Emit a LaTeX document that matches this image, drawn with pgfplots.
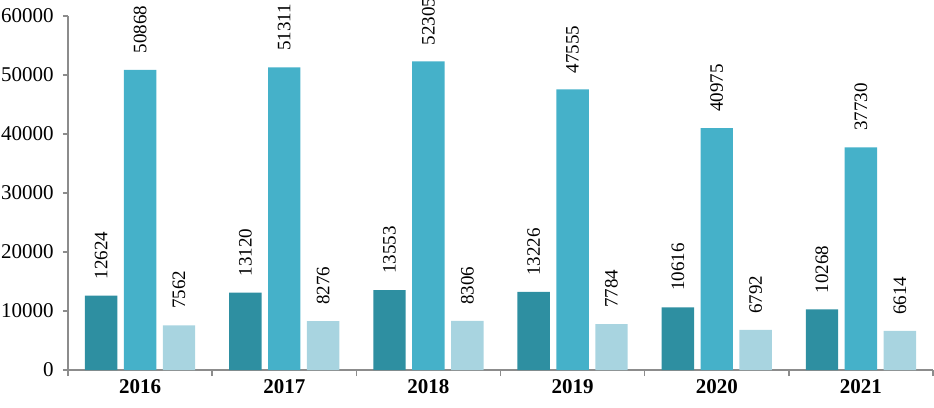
\documentclass[border=0pt]{standalone}
\usepackage{pgfplots}
\pgfplotsset{compat=1.18}
\usepackage{fontspec}
\setmainfont{Liberation Serif}
\definecolor{cA}{HTML}{2E8FA1}
\definecolor{cB}{HTML}{45B1C9}
\definecolor{cC}{HTML}{A8D4E0}
\definecolor{axg}{HTML}{8C8C8C}
\begin{document}
\fontsize{9}{11}\selectfont
\begin{tikzpicture}
\begin{axis}[
  name=ax,
  scale only axis,
  width=432.5pt, height=177pt,
  xmin=-0.5, xmax=5.5,
  ymin=0, ymax=60000,
  ytick={0,10000,...,60000},
  scaled y ticks=false,
  /pgf/number format/assume math mode=true,
  /pgf/number format/1000 sep={},
  yticklabel style={/pgf/number format/fixed,font=\fontsize{10.5}{12}\selectfont, xshift=-1.5pt},
  xtick={0,...,5},
  xticklabels={2016,2017,2018,2019,2020,2021},
  xticklabel style={font=\fontsize{10.5}{12}\selectfont\bfseries, yshift=1pt},
  major x tick style={draw=none},
  minor xtick={-0.5,0.5,1.5,2.5,3.5,4.5,5.5},
  minor x tick style={draw=axg, thick},
  minor tick length=3pt,
  tick align=outside,
  major tick length=2.5pt,
  ytick style={draw=axg, thick},
  axis x line*=bottom,
  axis y line*=left,
  axis line style={draw=axg, thick, -},
  ybar, bar width=0.225,
  bar shift auto=false,
  nodes near coords,
  nodes near coords style={/pgf/number format/1000 sep={}},
  every node near coord/.append style={rotate=90, anchor=west, font=\fontsize{9.5}{11}\selectfont, xshift=5pt},
  clip=false,
]
\addplot[fill=cA, draw=none, bar shift=-0.27] coordinates {(0,12624) (1,13120) (2,13553) (3,13226) (4,10616) (5,10268)};
\addplot[fill=cB, draw=none, bar shift=0] coordinates {(0,50868) (1,51311) (2,52305) (3,47555) (4,40975) (5,37730)};
\addplot[fill=cC, draw=none, bar shift=0.27] coordinates {(0,7562) (1,8276) (2,8306) (3,7784) (4,6792) (5,6614)};
\end{axis}
\pgfresetboundingbox
\path ([xshift=-34pt,yshift=-18.5pt]ax.south west) rectangle ([xshift=0.5pt,yshift=8pt]ax.north east);
\end{tikzpicture}
\end{document}
